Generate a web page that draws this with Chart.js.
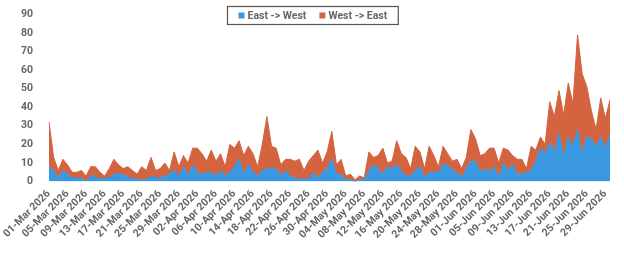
<!DOCTYPE html>
<html>
<head>
<meta charset="utf-8">
<script src="https://cdn.jsdelivr.net/npm/chart.js@4/dist/chart.umd.min.js"></script>
<style>
  html, body { margin: 0; padding: 0; background: #fff; }
  #wrap { width: 624px; height: 254px; }
</style>
</head>
<body>
<div id="wrap"><canvas id="myChart"></canvas></div>
<script>
// daily categories, 01-Mar 2026 .. 30-Jun 2026
var months = ['Mar', 'Apr', 'May', 'Jun'];
var monthDays = [31, 30, 31, 30];
var year = '2026';

var eastWest = [
    8, 6, 2, 6, 4, 2, 2, 2, 0, 3, 3, 1, 2, 2, 4, 4, 4, 2, 2, 1,
    1, 1, 3, 2, 2, 3, 4, 6, 3, 8, 3, 9, 5, 4, 5, 5, 3, 6, 3, 5,
    8, 12, 4, 9, 5, 3, 6, 7, 7, 7, 3, 6, 3, 2, 1, 2, 1, 5, 2, 5,
    7, 12, 4, 4, 1, 1, 0, 1, 1, 6, 9, 7, 4, 8, 7, 9, 6, 3, 3, 6,
    8, 2, 5, 5, 5, 9, 9, 6, 5, 2, 7, 11, 11, 5, 7, 5, 8, 2, 10, 6,
    9, 4, 4, 5, 6, 11, 18, 15, 21, 16, 26, 13, 24, 19, 28, 15, 24, 23, 19, 24,
    18, 25
];
var westEast = [
    24, 7, 4, 6, 5, 3, 3, 4, 3, 5, 5, 4, 1, 5, 8, 5, 3, 6, 4, 3,
    7, 5, 10, 4, 5, 7, 2, 10, 5, 6, 7, 9, 13, 11, 6, 12, 8, 9, 5, 15,
    10, 10, 10, 10, 10, 5, 14, 28, 12, 11, 6, 6, 9, 9, 11, 4, 10, 9, 15, 5,
    9, 15, 5, 8, 2, 3, 1, 2, 1, 10, 4, 7, 14, 2, 4, 13, 9, 10, 4, 13,
    8, 5, 14, 9, 3, 10, 6, 5, 7, 5, 6, 17, 12, 9, 8, 13, 10, 8, 8, 11,
    5, 8, 8, 2, 13, 6, 6, 5, 22, 19, 23, 23, 29, 23, 51, 43, 27, 15, 9, 21,
    16, 19
];
var seriesNames = ['East -> West', 'West -> East'];
var yTicks = [0, 10, 20, 30, 40, 50, 60, 70, 80, 90];

var labels = [];
months.forEach(function(m, i) {
    for (var d = 1; d <= monthDays[i]; d++) {
        labels.push((d < 10 ? '0' + d : '' + d) + '-' + m + ' ' + year);
    }
});

var BLUE = '#3a98e0';
var ORANGE = '#d4633f';
var TXT = '#666666';
var FONT = 'Roboto';

// legend drawn over the plot, with a frame round it
var boxedLegend = {
    id: 'boxedLegend',
    afterDraw: function(chart) {
        var ctx = chart.ctx;
        var sets = chart.data.datasets;
        ctx.save();
        ctx.font = 'bold 10.5px ' + FONT;
        var box = 6, gapBox = 3, gapItem = 13, padX = 11;
        var widths = sets.map(function(ds) { return box + gapBox + ctx.measureText(ds.label).width; });
        var total = widths.reduce(function(a, b) { return a + b; }, 0) + gapItem * (sets.length - 1);
        var left = Math.round(chart.width / 2 - total / 2 - padX) + 0.5;
        var top = 6.5, h = 18;
        ctx.fillStyle = '#fff';
        ctx.fillRect(left, top, total + padX * 2, h);
        ctx.strokeStyle = '#555';
        ctx.lineWidth = 1.2;
        ctx.strokeRect(left, top, total + padX * 2, h);
        var x = left + padX;
        var cy = top + h / 2;
        sets.forEach(function(ds, i) {
            ctx.fillStyle = ds.backgroundColor;
            ctx.fillRect(x, cy - box / 2, box, box);
            ctx.fillStyle = TXT;
            ctx.textBaseline = 'middle';
            ctx.textAlign = 'left';
            ctx.fillText(ds.label, x + box + gapBox, cy + 0.5);
            x += widths[i] + gapItem;
        });
        ctx.restore();
    }
};

var ctx = document.getElementById('myChart');
var myChart = new Chart(ctx, {
    type: 'line',
    data: {
        labels: labels,
        datasets: [{
            label: seriesNames[0],
            data: eastWest,
            backgroundColor: BLUE,
            borderColor: BLUE,
            borderWidth: 1,
            fill: 'origin',
            pointRadius: 0,
            tension: 0
        }, {
            label: seriesNames[1],
            data: westEast,
            backgroundColor: ORANGE,
            borderColor: ORANGE,
            borderWidth: 1,
            fill: '-1',
            pointRadius: 0,
            tension: 0
        }]
    },
    options: {
        responsive: true,
        maintainAspectRatio: false,
        animation: false,
        layout: { padding: { top: 0, right: 14, bottom: 11, left: 12 } },
        plugins: {
            legend: { display: false },
            tooltip: { enabled: false }
        },
        scales: {
            x: {
                grid: { display: false, drawTicks: true, tickLength: 4, color: '#ccc' },
                border: { display: false },
                ticks: {
                    autoSkip: false,
                    minRotation: 45,
                    maxRotation: 45,
                    padding: 2,
                    color: TXT,
                    font: { family: FONT, size: 10.5, weight: 'bold' },
                    callback: function(v, i) { return i % 4 === 0 ? labels[i] : null; }
                }
            },
            y: {
                stacked: true,
                min: 0,
                max: 90,
                afterBuildTicks: function(axis) {
                    axis.ticks = yTicks.map(function(v) { return { value: v }; });
                },
                afterFit: function(axis) { axis.width = 37; },
                grid: { display: false },
                border: { display: false },
                ticks: {
                    padding: 8,
                    color: TXT,
                    font: { family: FONT, size: 10.5, weight: 'bold' }
                }
            }
        }
    },
    plugins: [boxedLegend]
});
</script>
</body>
</html>
